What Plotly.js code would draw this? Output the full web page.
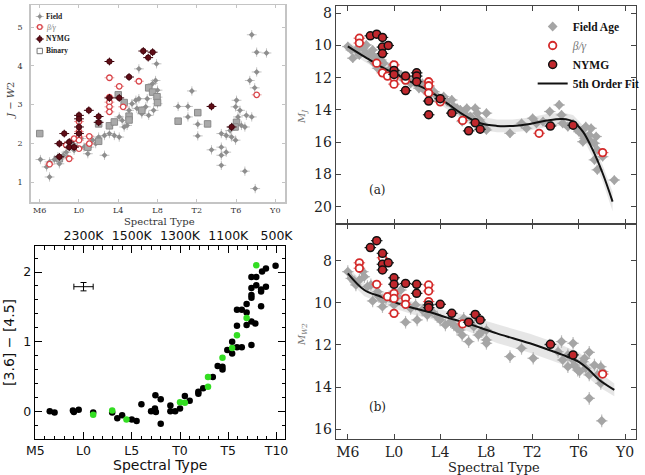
<!DOCTYPE html>
<html><head><meta charset="utf-8">
<script src="https://cdn.plot.ly/plotly-3.0.1.min.js"></script>
<style>body{margin:0;background:#fff}#c{width:645px;height:475px}</style>
</head><body><div id="c"></div>
<script>
// ---------- Panel 1 : J - W2 vs spectral type ----------
const p1FieldSpT=[6.07,6.7,7.0,7.0,7.5,7.85,8.0,8.4,8.7,8.85,9.0,9.4,9.5,9.8,10.2,10.5,10.9,11.05,11.4,11.7,12.0,12.6,12.6,13.1,13.4,13.6,14.1,14.1,14.4,14.6,14.9,15.1,15.4,15.8,16.1,15.9,16.4,16.8,16.95,16.1,17.3,17.5,17.8,18.0,18.0,17.9,18.0,17.6,17.1,20.1,21.1,21.1,21.5,22.1,22.1,23.5,24.5,24.5,24.5,25.0,24.5,25.0,25.4,25.55,25.95,26.05,26.4,26.2,26.55,26.9,27.05,27.6,27.4,27.6,28.1,29.1,28.1,27.9,26.9,27.95,25.55,25.95];
const p1FieldJW2=[1.58,1.39,1.13,1.52,1.58,1.65,1.47,1.69,1.77,1.64,1.9,1.99,1.82,1.9,2.12,1.9,1.73,1.9,2.08,1.99,2.16,1.69,2.2,2.25,2.5,2.2,2.16,2.68,2.59,2.42,2.46,2.85,3.02,3.11,3.15,2.9,2.76,2.94,3.15,3.92,3.37,3.54,3.62,3.19,3.37,4.05,3.02,2.85,2.72,2.95,2.95,2.68,3.35,2.49,2.19,1.83,1.9,1.69,1.43,1.77,2.25,2.2,2.33,2.42,2.94,3.11,2.85,2.68,2.46,2.42,2.72,2.68,3.62,4.8,4.35,4.33,3.84,3.43,1.28,0.83,2.16,2.08];
const p1BinSpT=[6.0,8.0,10.9,12.0,12.0,13.1,13.6,14.0,14.6,15.1,15.1,16.4,17.1,17.5,17.95,18.0,20.1,22.1,23.1,26.05,25.9];
const p1BinJW2=[2.25,1.6,1.9,2.5,2.05,2.45,2.55,3.25,3.05,2.7,2.6,2.85,3.43,3.32,3.2,3.05,2.57,2.79,2.5,2.54,2.42];
const p1BetaSpT=[7.0,9.0,8.7,9.5,10.0,10.0,10.0,10.0,10.0,11.05,11.05,13.1,13.1,13.1,13.1,13.1,14.1,14.5,16.1,28.1];
const p1BetaJW2=[1.46,1.6,1.95,2.12,2.16,2.08,1.86,2.3,2.56,2.18,1.99,3.69,3.19,3.06,2.94,2.81,3.47,2.94,3.6,3.25];
const p1NymgSpT=[8.0,8.0,8.5,9.0,9.0,9.5,10.0,10.0,10.0,10.0,11.0,12.0,12.0,13.1,13.1,14.1,15.1,16.55,17.05,17.5,23.5,25.55];
const p1NymgJW2=[1.99,1.65,2.25,2.03,1.9,1.9,2.72,2.63,2.42,2.25,2.85,2.69,2.54,4.11,3.17,3.17,3.71,4.38,4.21,4.35,2.95,2.42];

// ---------- Panel (a) : M_J ----------
const aFieldSpT=[6,6.3,6.7,7,6.43,7.3,7.6,7.6,7.9,8.15,8.15,8.3,8.58,8.7,8.87,9.1,9.3,9.58,9.87,10,10,10.3,10.6,10.87,11.16,11.44,11.73,12,12.16,12.45,12.6,13,13.16,13.45,13.74,14,14.3,14.6,15,15.17,15.46,15.74,15.9,16.2,16.3,16.6,16.74,17.03,17.2,17.4,17.6,17.9,18,18,15.9,20.04,21.04,21.47,22,22.33,22.9,23.48,23.6,24.3,24.5,24.6,25.05,25.5,25.77,26,26.2,26.35,26.6,26.9,26.5,26.9,27.35,27.5,27.6,27.35,27.6,28.06,29.07,27.06,26.35];
const aFieldMJ=[10.07,10.28,10.28,10.59,10.79,10.17,9.97,10.48,10.59,11,10.28,10.69,11.41,10.69,10.9,11.1,11.62,11.52,11.2,11.52,11.83,11.72,11.83,12.14,12.03,12.35,12.14,12.45,12.66,12.35,12.76,12.55,12.97,12.86,13.17,13.38,13.17,13.48,13.38,13.79,13.9,14,14.2,14.31,13.9,14.41,14.52,13.9,14.2,14.62,14.83,15.14,14.2,15.24,14.72,15.45,14.83,15.14,14.52,14.83,14.72,14.1,14.93,13.69,14.31,14.83,15.04,14.87,15.14,15.35,15.45,15.24,15.04,15.55,15.76,15.86,16.07,15.65,16.48,17.1,17.72,16.9,18.35,15.14,15.97];
const aBetaSpT=[7,7,8.5,9,9.44,10,10,10,11,13,13,13,14,15.94,22.56,28.06];
const aBetaMJ=[9.55,9.85,11.1,11.7,11.9,11.2,12.0,12.4,12.15,12.25,12.5,12.95,13.5,14.65,15.45,16.65];
const aNymgSpT=[7.95,8.5,9,9,9,9.5,10,10,11,11,11.96,11.96,11.96,13,13,14,15,17.03,16.46,17.46,23.54,25.5];
const aNymgMJ=[9.4,9.3,9.5,10.1,10.5,10.0,11.55,11.8,11.9,12.8,11.7,11.9,12.25,13.45,14.3,13.3,14.2,14.8,15.3,15.2,15.0,14.95];
const aFitSpT=[6,7.43,8.87,10.3,11.73,13.16,14.6,16.03,17.46,18.9,20.3,21.76,23.2,24.6,25.5,26.35,27.2,28.06,28.92];
const aFitMJ=[10.05,10.69,11.31,11.83,12.35,12.86,13.59,14.31,14.83,14.99,14.99,14.87,14.66,14.56,14.72,15.35,16.48,17.93,19.69];
const aFitErr=[0.3,0.3,0.3,0.3,0.3,0.35,0.35,0.4,0.4,0.4,0.4,0.4,0.4,0.4,0.4,0.4,0.45,0.5,0.6];

// ---------- Panel (b) : M_W2 ----------
const bFieldSpT=[6,6.3,6.6,6.7,7,7.3,7.43,7.7,8,8.15,8.58,8.7,9,9,9.3,9.58,9.87,10,10.3,10.6,10.87,11,11.44,11.87,12,12.45,12.88,13.3,13.74,14,14.45,14.9,15.17,15.46,15.9,16.03,16.46,16.9,17.3,17.6,18,18,18,15.7,20.04,21.04,22.05,23.48,24.2,24.5,24.6,25.05,25.05,25.5,25.5,25.6,25.9,26.35,26.5,26.6,26.9,26.9,27.35,27.6,27.9,27.9,26.9,27.98,28.06,26.06];
const bFieldMW2=[8.52,8.84,9.0,9.15,8.92,8.52,8.76,9.23,9.15,9.91,9.47,9.71,9.87,10.18,9.79,9.71,9.87,10.1,9.71,9.39,10.02,10.92,10.26,10.1,10.81,10.34,10.58,10.42,10.66,10.81,11.05,10.89,11.05,11.21,11.53,10.74,11.84,11.13,11.53,11.37,11.29,11.76,11.92,11.29,12.55,12.16,12.63,12.0,12.32,11.84,12.71,12.47,13.03,12.71,11.92,12.95,13.19,12.79,12.63,13.1,12.35,13.42,12.95,13.42,13.03,13.82,14.53,15.6,13.26,13.26];
const bBetaSpT=[7,7,8.5,9,9.44,10,10,10,11,11,13,13,13,15.94,28.06];
const bBetaMW2=[8.1,8.36,9.12,7.86,9.71,9.55,9.79,10.5,9.79,10.07,9.15,9.44,9.94,11.0,13.38];
const bNymgSpT=[7.95,8.5,9,9,9,9.5,10,10,11,11.96,11.96,13,13,14,15,16.46,17.03,17.46,23.54,25.5];
const bNymgMW2=[7.38,7.05,7.65,8.17,8.44,8.1,8.81,9.12,9.08,9.12,9.55,10.1,10.23,10.07,10.5,10.92,10.55,10.81,11.97,12.47];
const bFitSpT=[6,7.43,8.87,10.3,11.73,13.16,14.6,16.03,17.46,18.9,20.3,21.76,23.2,24.6,26.06,26.9,27.78,29.07];
const bFitMW2=[8.6,9.39,9.71,10.02,10.26,10.45,10.7,10.92,11.18,11.45,11.68,11.92,12.19,12.47,12.82,13.19,13.66,14.13];
const bFitErr=[0.3,0.3,0.3,0.3,0.3,0.3,0.3,0.35,0.4,0.45,0.45,0.45,0.45,0.45,0.45,0.4,0.35,0.3];

// ---------- Panel 3 : [3.6]-[4.5] ----------
const cBlackSpT=[6.5,7,8.9,9,9.5,11,12.97,13.5,14,15,15.5,16,17,17.4,17.45,17.5,18,18,19,19,19.5,20,20.5,21,21.9,21.9,22.4,23.4,23.9,24.4,24.4,24.9,25.4,25.4,25.9,25.9,25.9,26.4,26.4,26.9,26.9,26.9,27.4,27.4,27.4,27.4,27.4,27.4,27.8,27.9,27.9,28.4,28.4,28.4,28.5,28.9,28.9,29.9];
const cBlackCol=[0,-0.02,0.01,-0.01,0.02,-0.02,-0.02,-0.1,-0.06,-0.12,-0.14,0.1,0,0.04,0.23,-0.01,0.17,-0.18,0.08,0,0,0.04,0.22,0.15,0.25,0.28,0.33,0.49,0.65,0.64,0.6,0.88,0.83,1.0,0.92,1.23,1.46,0.92,1.46,1.42,1.54,1.24,0.95,1.29,1.63,1.67,1.77,1.93,1.26,1.81,1.93,1.51,1.72,1.75,2.01,1.79,2.05,2.09];
const cGreenSpT=[11,12.97,14.45,20,20.5,22.9,22.9,24.4,25.4,25.9,26.9,27.9];
const cGreenCol=[-0.05,0.01,-0.12,0.13,0.12,0.49,0.35,0.77,0.91,1.09,1.34,2.1];
const cErrSpT=[10], cErrCol=[1.79], cErrX=[1], cErrY=[0.06];

// ---------- Tick labels ----------
const spTicks=[6,10,14,18,22,26,30];
const spLabels=['M6','L0','L4','L8','T2','T6','Y0'];
const cTicks=[5,10,15,20,25,30];
const cLabels=['M5','L0','L5','T0','T5','T10'];
const teffTicks=[10,15,20,25,30];
const teffLabels=['2300K','1500K','1300K','1100K','500K'];

// ---------- helpers ----------
const W=645,H=475;
const PX=x=>x/W, PY=y=>1-y/H;
const SERIF='DejaVu Serif', SANS='DejaVu Sans';
const band=(xs,ys,es,ax,ay)=>({x:xs.concat(xs.slice().reverse()),
  y:ys.map((v,i)=>v-es[i]).concat(ys.map((v,i)=>v+es[i]).reverse()),
  xaxis:ax,yaxis:ay,type:'scatter',mode:'lines',fill:'toself',fillcolor:'rgba(200,200,200,0.45)',
  line:{width:0,color:'rgba(0,0,0,0)'},hoverinfo:'skip',showlegend:false});
const eb=(v,c,t)=>({type:'constant',value:v,color:c,thickness:t||1,width:0});

const traces=[];
// Panel 1
traces.push({x:p1FieldSpT,y:p1FieldJW2,xaxis:'x',yaxis:'y',type:'scatter',mode:'markers',showlegend:false,
  marker:{symbol:'diamond',size:4.5,color:'#8e8e8e'},error_x:eb(0.5,'#c4c4c4'),error_y:eb(0.12,'#c4c4c4')});
traces.push({x:p1BinSpT,y:p1BinJW2,xaxis:'x',yaxis:'y',type:'scatter',mode:'markers',showlegend:false,
  marker:{symbol:'square',size:6.5,color:'#a9a9a9',line:{color:'#8a8a8a',width:1}}});
traces.push({x:p1BetaSpT,y:p1BetaJW2,xaxis:'x',yaxis:'y',type:'scatter',mode:'markers',showlegend:false,
  marker:{symbol:'circle',size:5.5,color:'#ffffff',line:{color:'#d9454a',width:1.3}},error_x:eb(0.5,'#e59a9a')});
traces.push({x:p1NymgSpT,y:p1NymgJW2,xaxis:'x',yaxis:'y',type:'scatter',mode:'markers',showlegend:false,
  marker:{symbol:'circle',size:5.5,color:'#5e0d16',line:{color:'#3b0009',width:0.8}},error_x:eb(0.5,'#3b0009'),error_y:eb(0.1,'#3b0009')});

// Panel (a)
traces.push(band(aFitSpT,aFitMJ,aFitErr,'x2','y2'));
traces.push({x:aFieldSpT,y:aFieldMJ,xaxis:'x2',yaxis:'y2',type:'scatter',mode:'markers',name:'<b>Field Age</b>',legendrank:1,legendgroup:'g1',
  marker:{symbol:'diamond',size:7.5,color:'#a5a5a5'},error_x:eb(0.5,'#bdbdbd',1.2),error_y:eb(0.3,'#bdbdbd',1.2)});
traces.push({x:aFitSpT,y:aFitMJ,xaxis:'x2',yaxis:'y2',type:'scatter',mode:'lines',name:'<b>5th Order Fit</b>',legendrank:4,legendgroup:'g4',
  line:{color:'#111',width:2,shape:'spline'}});
traces.push({x:aBetaSpT,y:aBetaMJ,xaxis:'x2',yaxis:'y2',type:'scatter',mode:'markers',name:'<span style="color:#777"><i>β/γ</i></span>',legendrank:2,legendgroup:'g2',
  marker:{symbol:'circle',size:7.5,color:'#ffffff',line:{color:'#d42a2a',width:1.8}},error_x:eb(0.5,'#e07070',1.2),error_y:eb(0.15,'#e07070',1.2)});
traces.push({x:aNymgSpT,y:aNymgMJ,xaxis:'x2',yaxis:'y2',type:'scatter',mode:'markers',name:'<b>NYMG</b>',legendrank:3,legendgroup:'g3',
  marker:{symbol:'circle',size:8,color:'#c0282d',line:{color:'#111',width:1.5}},error_x:eb(0.5,'#222',1.2),error_y:eb(0.15,'#222',1.2)});

// Panel (b)
traces.push(band(bFitSpT,bFitMW2,bFitErr,'x3','y3'));
traces.push({x:bFieldSpT,y:bFieldMW2,xaxis:'x3',yaxis:'y3',type:'scatter',mode:'markers',showlegend:false,
  marker:{symbol:'diamond',size:7.5,color:'#a5a5a5'},error_x:eb(0.5,'#bdbdbd',1.2),error_y:eb(0.3,'#bdbdbd',1.2)});
traces.push({x:bFitSpT,y:bFitMW2,xaxis:'x3',yaxis:'y3',type:'scatter',mode:'lines',showlegend:false,
  line:{color:'#111',width:2,shape:'spline'}});
traces.push({x:bBetaSpT,y:bBetaMW2,xaxis:'x3',yaxis:'y3',type:'scatter',mode:'markers',showlegend:false,
  marker:{symbol:'circle',size:7.5,color:'#ffffff',line:{color:'#d42a2a',width:1.8}},error_x:eb(0.5,'#e07070',1.2),error_y:eb(0.15,'#e07070',1.2)});
traces.push({x:bNymgSpT,y:bNymgMW2,xaxis:'x3',yaxis:'y3',type:'scatter',mode:'markers',showlegend:false,
  marker:{symbol:'circle',size:8,color:'#c0282d',line:{color:'#111',width:1.5}},error_x:eb(0.5,'#222',1.2),error_y:eb(0.15,'#222',1.2)});

// Panel 3
traces.push({x:cBlackSpT,y:cBlackCol,xaxis:'x4',yaxis:'y4',type:'scatter',mode:'markers',showlegend:false,
  marker:{symbol:'circle',size:6.5,color:'#000'}});
traces.push({x:cGreenSpT,y:cGreenCol,xaxis:'x4',yaxis:'y4',type:'scatter',mode:'markers',showlegend:false,
  marker:{symbol:'circle',size:6.5,color:'#33dd22'}});
traces.push({x:cErrSpT,y:cErrCol,xaxis:'x5',yaxis:'y4',type:'scatter',mode:'markers',showlegend:false,
  marker:{size:1,color:'#000'},
  error_x:{type:'data',array:cErrX,color:'#000',thickness:1,width:3},
  error_y:{type:'data',array:cErrY,color:'#000',thickness:1,width:3}});

const ser=(s,c)=>({family:SERIF,size:s,color:c||'#222'});
const axBase={showgrid:false,zeroline:false,showline:true};
const ann=(text,x,y,font,extra)=>Object.assign({text:text,xref:'paper',yref:'paper',x:PX(x),y:PY(y),
  xanchor:'center',yanchor:'middle',showarrow:false,font:font},extra||{});
const lf=(c)=>({family:'Liberation Serif',size:7.5,color:c||'#222'});
const sans=(s)=>({family:SANS,size:s,color:'#111'});
const layout={
  width:W,height:H,margin:{l:0,r:0,t:0,b:0},paper_bgcolor:'#fff',plot_bgcolor:'rgba(0,0,0,0)',
  showlegend:true,hovermode:false,
  legend:{x:PX(536),y:PY(12),xanchor:'left',yanchor:'top',bgcolor:'rgba(0,0,0,0)',
    font:{family:'Liberation Serif',size:11.5,color:'#111'},tracegroupgap:2,traceorder:'normal'},
  xaxis:Object.assign({},axBase,{domain:[PX(31),PX(287)],anchor:'y',range:[5.09,31.01],tickvals:spTicks,ticktext:spLabels,
    mirror:'ticks',linecolor:'#c4c4c4',linewidth:1.5,ticks:'inside',ticklen:3,tickcolor:'#c4c4c4',tickfont:ser(8,'#333')}),
  yaxis:Object.assign({},axBase,{domain:[PY(202),PY(5)],anchor:'x',range:[0.484,5.568],tickvals:[1,2,3,4,5],
    mirror:'ticks',linecolor:'#c4c4c4',linewidth:1.5,ticks:'inside',ticklen:3,tickcolor:'#c4c4c4',tickfont:ser(8,'#333'),ticklabelstandoff:5}),
  xaxis2:Object.assign({},axBase,{domain:[PX(338),PX(640)],anchor:'y2',range:[4.97,30.95],tickvals:spTicks,showticklabels:false,
    ticks:'inside',ticklen:5,mirror:'ticks',linecolor:'#444',linewidth:1.2,tickcolor:'#444'}),
  yaxis2:Object.assign({},axBase,{domain:[PY(224),PY(6)],anchor:'x2',range:[21.08,7.55],tickvals:[8,10,12,14,16,18,20],
    ticks:'inside',ticklen:5,mirror:'ticks',linecolor:'#444',linewidth:1.2,tickcolor:'#444',tickfont:ser(14,'#222')}),
  xaxis3:Object.assign({},axBase,{domain:[PX(338),PX(640)],anchor:'y3',range:[4.97,30.95],tickvals:spTicks,ticktext:spLabels,
    ticks:'inside',ticklen:5,mirror:'ticks',linecolor:'#444',linewidth:1.2,tickcolor:'#444',tickfont:ser(14,'#222')}),
  yaxis3:Object.assign({},axBase,{domain:[PY(439),PY(224)],anchor:'x3',range:[16.46,6.26],tickvals:[8,10,12,14,16],
    ticks:'inside',ticklen:5,mirror:'ticks',linecolor:'#444',linewidth:1.2,tickcolor:'#444',tickfont:ser(14,'#222')}),
  xaxis4:Object.assign({},axBase,{domain:[PX(35),PX(287)],anchor:'y4',range:[4.95,30.9],tickvals:cTicks,ticktext:cLabels,
    ticks:'inside',ticklen:7,linecolor:'#000',linewidth:1.2,tickcolor:'#000',mirror:false,
    minor:{dtick:1,tick0:0,ticks:'inside',ticklen:3.5,tickcolor:'#000'},tickfont:sans(12.5)}),
  xaxis5:Object.assign({},axBase,{domain:[PX(35),PX(287)],anchor:'y4',overlaying:'x4',side:'top',range:[4.95,30.9],
    tickvals:teffTicks,ticktext:teffLabels,ticks:'inside',ticklen:7,linecolor:'#000',linewidth:1.2,tickcolor:'#000',
    minor:{dtick:1,tick0:0,ticks:'inside',ticklen:3.5,tickcolor:'#000'},tickfont:sans(12.5)}),
  yaxis4:Object.assign({},axBase,{domain:[PY(439),PY(246)],anchor:'x4',range:[-0.40,2.375],tickvals:[0,1,2],
    ticks:'inside',ticklen:7,mirror:'ticks',linecolor:'#000',linewidth:1.2,tickcolor:'#000',
    minor:{dtick:0.2,tick0:0,ticks:'inside',ticklen:3.5,tickcolor:'#000'},tickfont:sans(12.5)}),
  annotations:[
    ann('<i>J</i> − <i>W</i>2',10,100,ser(10,'#444'),{textangle:-90}),
    ann('Spectral Type',160,221,ser(10,'#333')),
    ann('<i>M<sub>J</sub></i>',304,117,ser(10,'#777'),{textangle:-90}),
    ann('<i>M<sub>W2</sub></i>',304,335,ser(10,'#777'),{textangle:-90}),
    ann('(a)',380,190,ser(12,'#222')),
    ann('(b)',380,407,ser(12,'#222')),
    ann('Spectral Type',497,467.5,ser(13,'#222')),
    ann('Spectral Type',161,465,sans(14)),
    ann('[3.6] − [4.5]',9,342,sans(14),{textangle:-90}),
    ann('<b>Field</b>',44,16.5,lf(),{xanchor:'left'}),
    ann('<i>β/γ</i>',44,27,lf('#777'),{xanchor:'left'}),
    ann('<b>NYMG</b>',44,39,lf(),{xanchor:'left'}),
    ann('<b>Binary</b>',44,51,lf(),{xanchor:'left'})
  ],
  shapes:[
    {type:'line',xref:'paper',yref:'paper',x0:PX(36),x1:PX(44),y0:PY(16.5),y1:PY(16.5),line:{color:'#c4c4c4',width:1}},
    {type:'line',xref:'paper',yref:'paper',x0:PX(40),x1:PX(40),y0:PY(12.5),y1:PY(20.5),line:{color:'#c4c4c4',width:1}},
    {type:'path',xref:'paper',yref:'paper',path:`M ${PX(37.5)} ${PY(16.5)} L ${PX(40)} ${PY(14)} L ${PX(42.5)} ${PY(16.5)} L ${PX(40)} ${PY(19)} Z`,fillcolor:'#8e8e8e',line:{width:0}},
    {type:'line',xref:'paper',yref:'paper',x0:PX(36),x1:PX(44),y0:PY(27),y1:PY(27),line:{color:'#e59a9a',width:1}},
    {type:'circle',xref:'paper',yref:'paper',x0:PX(37.6),x1:PX(42.4),y0:PY(29.4),y1:PY(24.6),fillcolor:'#fff',line:{color:'#d9454a',width:1.3}},
    {type:'line',xref:'paper',yref:'paper',x0:PX(36),x1:PX(44),y0:PY(39),y1:PY(39),line:{color:'#3b0009',width:1}},
    {type:'line',xref:'paper',yref:'paper',x0:PX(40),x1:PX(40),y0:PY(35),y1:PY(43),line:{color:'#3b0009',width:1}},
    {type:'circle',xref:'paper',yref:'paper',x0:PX(37.6),x1:PX(42.4),y0:PY(41.4),y1:PY(36.6),fillcolor:'#5e0d16',line:{color:'#3b0009',width:0.8}},
    {type:'rect',xref:'paper',yref:'paper',x0:PX(37.3),x1:PX(42.7),y0:PY(53.7),y1:PY(48.3),fillcolor:'#fff',line:{color:'#777',width:1}}
  ]
};
Plotly.newPlot('c',traces,layout,{staticPlot:true,displayModeBar:false});
</script></body></html>
